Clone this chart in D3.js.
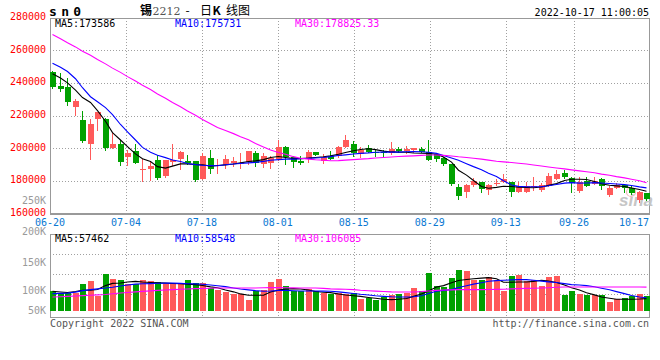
<!DOCTYPE html>
<html>
<head>
<meta charset="utf-8">
<script src="https://cdn.jsdelivr.net/npm/d3@7"></script>
<style>
body { margin: 0; background: #fff; }
svg { display: block; font-family: "DejaVu Sans Mono", monospace; }
</style>
</head>
<body>
<svg id="chart" width="660" height="360"></svg>
<script>
// daily bars of sn0 (tin 2212), 06-20 .. 10-17
var open = [246900,238300,237600,225000,217200,202800,217600,217600,199800,202800,
	194700,198200,187100,187300,192800,183000,191800,193500,192200,192200,
	181200,193900,189200,189800,190800,190600,191800,197300,190400,190800,
	193500,201000,194500,192400,193500,197900,192400,194900,194900,201000,
	202500,196300,200000,197900,197500,196900,199600,198400,199000,199600,
	197900,196300,193900,190400,176400,173400,177500,179500,174400,177900,
	179500,179500,173400,173400,176000,174400,176900,181200,184700,181600,
	174000,180100,178100,181000,171400,175500,177500,175500,168300,172400];
var high = [247300,246000,243200,230400,222900,217600,222300,218600,209600,204900,
	198800,202800,193600,192400,195700,192800,202800,198400,195900,192200,
	196900,199000,193300,195900,194500,196900,198400,198500,197300,194900,
	204700,201400,195300,194900,199000,197900,196500,198400,201400,207800,
	204100,201000,202000,199000,198600,203500,200600,201400,200400,200600,
	204700,196900,194300,190400,178100,177900,181600,179500,178100,181200,
	184200,179500,179500,179500,182200,178700,184600,186700,186700,182200,
	182200,182200,182200,181600,176600,178700,178300,176600,174000,172800];
var low = [236600,234800,226400,220600,203900,193600,211100,198800,199800,189600,
	189600,191200,180100,180400,181400,182400,189600,187100,190600,179800,
	181000,185000,184700,188100,189200,188100,190400,189200,188500,187700,
	192800,190200,188700,190600,191400,195900,191200,193300,194500,200600,
	195300,194500,197600,195500,195500,196500,197600,196900,197900,197600,
	192800,192400,189800,177500,168900,170300,176900,173400,172000,177500,
	179500,170700,173400,173400,174400,173800,176900,181200,181900,173400,
	173000,176900,178100,174900,170700,175500,173200,171800,167200,168300];
var close = [237700,236000,228000,229100,204500,215100,222300,199800,202800,191600,
	197300,191200,187500,189200,181800,192800,192800,197800,191000,180800,
	194900,187100,189800,193300,192400,191000,198400,191200,195300,193900,
	201000,194500,191800,191200,197900,195900,194500,193500,200600,204700,
	197300,199000,197900,196900,196900,199400,198400,199400,200000,197900,
	192800,193500,190400,178100,170900,177500,180100,174900,177500,178900,
	181200,173400,176900,176900,176600,177500,183200,184200,182200,178900,
	179500,176900,180100,176900,175500,177500,175500,172400,173400,168700];
var volume = [80800,73800,73800,73800,109500,121800,60300,150500,130000,125900,
	109500,109500,125900,121800,117700,112300,116400,109500,125900,114800,
	114800,94300,84900,77900,71300,68500,43900,80800,84900,117700,
	130000,101300,82000,82000,91800,80800,73800,71300,73800,71300,
	73800,48000,52100,43900,57400,64400,68500,73800,93100,80800,
	155800,101300,98400,134100,166900,162800,125900,125900,139400,125900,
	82000,142300,146400,121800,128700,101300,139400,142300,64400,80800,
	68500,64400,64400,64400,36900,49200,53300,60300,68500,60300];

// moving averages as drawn (thousands)
var ma5 = [245.5,243.0,240.0,235.5,231.0,228.0,223.0,216.5,209.5,205.0,
	201.0,196.5,193.5,191.8,188.7,187.8,189.0,190.4,190.4,190.0,
	189.8,189.0,189.4,189.8,190.3,191.0,191.8,192.2,193.0,194.3,
	194.9,194.3,193.6,193.6,193.9,194.3,194.7,195.3,196.3,197.3,
	198.4,199.2,199.6,199.1,198.2,197.7,197.6,197.5,197.0,196.9,
	196.8,196.3,194.6,191.5,186.5,183.5,180.2,176.5,175.5,176.0,
	176.7,176.5,176.1,175.9,175.8,176.2,177.2,178.3,180.2,181.0,
	181.0,180.8,179.6,178.2,177.3,176.9,176.5,175.6,174.7,173.6];
var ma10 = [252.0,249.5,246.9,242.5,237.0,231.5,228.4,224.8,220.5,214.5,
	210.0,205.0,200.5,197.5,195.7,194.2,192.8,191.8,190.6,189.9,
	189.5,189.3,189.2,189.8,190.3,190.6,191.0,191.3,191.9,192.6,
	193.0,193.3,193.3,193.5,193.8,194.0,194.3,194.8,195.5,195.9,
	196.4,196.8,197.1,197.5,197.6,197.6,197.6,197.8,197.9,197.8,
	197.5,196.8,195.5,194.0,192.6,190.5,188.7,186.8,184.6,182.6,
	180.0,177.5,176.6,176.4,176.4,176.4,177.0,177.8,178.6,178.9,
	178.6,178.7,178.9,178.7,178.4,178.1,177.7,177.1,176.3,175.7];
var ma30 = [269.6,267.0,264.5,262.0,259.4,256.9,254.3,251.6,249.0,246.4,
	243.8,241.1,238.5,235.9,233.2,230.6,228.0,225.3,222.7,220.1,
	217.5,214.9,212.6,210.8,208.9,207.0,205.1,202.9,200.7,198.9,
	197.4,196.3,194.8,193.8,193.3,192.9,192.6,192.3,192.4,192.7,
	193.0,193.3,193.6,194.0,194.3,194.6,194.9,195.1,195.3,195.6,
	195.8,195.8,195.6,195.2,194.7,194.3,193.8,193.3,192.7,192.0,
	191.6,191.2,190.8,190.3,189.7,189.1,188.5,187.9,187.3,186.7,
	186.1,185.6,184.9,184.1,183.4,182.6,181.8,181.0,180.1,178.8];
var volMa5 = [80.8,77.9,76.0,80.0,84.9,84.9,88.0,104.0,113.0,114.8,
	119.0,121.5,119.0,117.0,115.3,114.0,112.8,111.5,110.2,108.0,
	104.5,99.0,95.0,86.0,78.5,70.0,64.4,64.4,64.4,77.9,
	85.5,89.5,91.8,90.0,86.0,80.0,77.0,75.4,69.5,65.5,
	62.5,60.0,55.5,52.0,48.0,46.7,48.0,51.0,60.0,70.0,
	82.0,98.0,104.0,116.0,125.0,129.0,132.0,134.5,136.9,132.0,
	118.0,117.5,118.9,118.9,121.5,125.9,123.0,117.0,106.5,95.0,
	86.0,75.0,66.0,57.0,52.0,48.0,48.0,48.0,49.0,50.8];
var volMa10 = [71.3,72.3,73.4,77.5,83.5,87.7,90.8,94.0,97.5,102.5,
	106.5,110.0,111.5,112.3,113.5,114.8,114.0,113.0,111.8,111.0,
	109.8,106.5,103.5,100.0,94.5,90.0,86.5,83.5,81.0,82.0,
	84.0,84.5,83.0,82.0,82.0,82.0,81.5,80.8,78.5,75.4,
	72.0,68.5,65.5,62.5,60.0,58.2,57.4,57.4,58.5,62.5,
	72.0,80.8,84.5,87.7,96.5,103.5,110.0,115.5,122.0,124.5,
	125.9,127.5,128.7,128.7,126.0,122.5,119.5,116.5,112.0,108.2,
	106.5,103.8,99.5,93.5,87.0,79.5,71.3,63.5,57.4,54.0];
var volMa30 = [57.4,58.5,60.0,61.5,63.0,64.4,66.0,67.5,70.5,73.5,
	76.0,78.5,80.5,82.5,84.5,86.0,87.5,89.0,90.0,91.5,
	92.3,93.3,94.3,94.3,94.3,94.3,94.3,94.3,95.0,95.9,
	95.9,95.5,94.8,94.3,94.3,94.3,92.5,90.5,89.5,89.0,
	87.5,85.0,83.0,81.5,80.0,78.5,77.9,77.9,77.9,79.5,
	82.0,84.5,86.0,86.5,87.5,87.7,87.7,87.7,88.2,88.7,
	89.0,90.5,91.8,92.5,93.5,94.3,95.5,97.0,98.4,98.4,
	98.4,98.4,98.4,98.4,98.4,98.4,98.4,98.4,98.4,98.0];

var dateLabels = ["06-20","07-04","07-18","08-01","08-15","08-29","09-13","09-26","10-17"];
var dateIndex = [0,10,20,30,40,50,60,69,79];
var priceTicks = [280000,260000,240000,220000,200000,180000,160000];
var volLabels = ["250K","200K","150K","100K","50K"];
var volLabelValues = [250000,200000,150000,100000,50000];
var maNames = ["MA5","MA10","MA30"];
var priceMaLast = ["173586","175731","178825.33"];
var volMaLast = ["57462","58548","106085"];

var maColors = ["#000000","#0000ff","#ff00ff"];
var upColor = "#ff5a5a", downColor = "#00a100";
var gridColor = "#a0a0a0", frameColor = "#999999";

var svg = d3.select("#chart");
var left = 50, right = 650;
var priceTop = 18, priceBottom = 213;
var volTop = 234, volBottom = 317;

var x = d3.scaleBand().domain(d3.range(close.length)).range([left, right])
	.paddingInner(0.24).paddingOuter(0);
var xt = d3.scaleLinear().domain([0, 79]).range([left, right]);
var y = d3.scaleLinear().domain([160000, 280000]).range([213.5, 17.5]);
var yv = d3.scaleLinear().domain([0, 313000]).range([311, 234.6]);
// the volume labels sit where the original puts them, not on a linear grid
var yvl = d3.scaleLinear().domain(volLabelValues).range([200, 231, 262, 290, 310]);

var bw = Math.round(x.bandwidth());
var bx = i => Math.round(x(i));
var cx = i => bx(i) + 2.5;
var px = v => Math.round(v) + 0.5;

// grid
var grid = svg.append("g").attr("stroke", gridColor).attr("stroke-dasharray", "1,2")
	.attr("shape-rendering", "crispEdges");
priceTicks.slice(1, -1).forEach(function(t){
	grid.append("line").attr("x1", left).attr("x2", right)
		.attr("y1", px(y(t))).attr("y2", px(y(t)));
});
d3.range(1, 4).forEach(function(k){
	var gy = volTop + 20*k + 0.5;
	grid.append("line").attr("x1", left).attr("x2", right).attr("y1", gy).attr("y2", gy);
});
dateIndex.slice(1, -1).forEach(function(d){
	var gx = px(xt(d));
	grid.append("line").attr("x1", gx).attr("x2", gx).attr("y1", priceTop).attr("y2", priceBottom);
	grid.append("line").attr("x1", gx).attr("x2", gx).attr("y1", volTop).attr("y2", volBottom);
});

// frames
var frame = svg.append("g").attr("fill", "none").attr("stroke", frameColor)
	.attr("shape-rendering", "crispEdges");
frame.append("rect").attr("x", left + 0.5).attr("y", priceTop + 0.5)
	.attr("width", right - left - 1).attr("height", priceBottom - priceTop);
frame.append("line").attr("x1", left).attr("x2", right)
	.attr("y1", priceBottom + 1.5).attr("y2", priceBottom + 1.5);
frame.append("rect").attr("x", left + 0.5).attr("y", volTop + 0.5)
	.attr("width", right - left - 1).attr("height", volBottom - volTop);

// watermark
var wm = svg.append("g");
wm.append("circle").attr("cx", 631).attr("cy", 192).attr("r", 4.5)
	.attr("fill", "none").attr("stroke", "#f2b8b8").attr("stroke-width", 1.2);
wm.append("text").attr("x", 619).attr("y", 206)
	.attr("font-family", "Liberation Sans, Arial, sans-serif")
	.attr("font-size", 17).attr("font-weight", "bold").attr("font-style", "italic")
	.attr("fill", "#c6c6c6").text("sina");

// candles
var idx = d3.range(close.length);
var isUp = i => close[i] >= open[i];
var candles = svg.append("g").attr("shape-rendering", "crispEdges");
candles.selectAll("line.wick").data(idx).enter().append("line")
	.attr("class", "wick")
	.attr("x1", cx).attr("x2", cx)
	.attr("y1", i => Math.round(y(high[i])))
	.attr("y2", i => Math.round(y(low[i])) + 1)
	.attr("stroke", i => isUp(i) ? upColor : downColor);
candles.selectAll("rect.body").data(idx).enter().append("rect")
	.attr("class", "body")
	.attr("x", bx)
	.attr("width", bw)
	.attr("y", i => Math.round(y(Math.max(open[i], close[i]))))
	.attr("height", function(i){
		var t = Math.round(y(Math.max(open[i], close[i])));
		var b = Math.round(y(Math.min(open[i], close[i])));
		return Math.max(1, b - t);
	})
	.attr("fill", i => isUp(i) ? upColor : downColor);

// volume bars
svg.append("g").attr("shape-rendering", "crispEdges")
	.selectAll("rect").data(idx).enter().append("rect")
	.attr("x", bx)
	.attr("width", bw)
	.attr("y", i => Math.round(yv(volume[i])))
	.attr("height", i => Math.round(yv(0)) - Math.round(yv(volume[i])))
	.attr("fill", i => isUp(i) ? upColor : downColor);

// moving average lines
var priceLine = d3.line().x((d, i) => cx(i)).y(d => y(d*1000));
[ma5, ma10, ma30].forEach(function(s, k){
	svg.append("path").attr("d", priceLine(s)).attr("fill", "none")
		.attr("stroke", maColors[k]).attr("stroke-width", 1.1);
});
var volLine = d3.line().x((d, i) => cx(i)).y(d => yv(d*1000));
[volMa5, volMa10, volMa30].forEach(function(s, k){
	svg.append("path").attr("d", volLine(s)).attr("fill", "none")
		.attr("stroke", maColors[k]).attr("stroke-width", 1.1);
});

// axis labels
var txt = svg.append("g").attr("font-size", 10);
txt.selectAll("text.price").data(priceTicks).enter().append("text")
	.attr("x", 46).attr("y", d => y(d) + 2.5)
	.attr("text-anchor", "end").attr("fill", "#f00").text(d => d);
txt.selectAll("text.vol").data(volLabels).enter().append("text")
	.attr("x", 46).attr("y", (d, i) => yvl(volLabelValues[i]) + 3.5)
	.attr("text-anchor", "end").attr("fill", "#9a9a9a").text(d => d);
txt.selectAll("text.date").data(dateLabels).enter().append("text")
	.attr("x", (d, i) => i == dateLabels.length - 1 ? right - 1 : xt(dateIndex[i]))
	.attr("y", 225.5)
	.attr("text-anchor", (d, i) => i == dateLabels.length - 1 ? "end" : "middle")
	.attr("fill", "#0a78d2").text(d => d);

// MA legends
[55, 175, 295].forEach(function(lx, k){
	txt.append("text").attr("x", lx).attr("y", 27).attr("fill", maColors[k])
		.text(maNames[k] + ":" + priceMaLast[k]);
	txt.append("text").attr("x", lx).attr("y", 242).attr("fill", maColors[k])
		.text(maNames[k] + ":" + volMaLast[k]);
});

// header and footer
svg.append("text").attr("x", 49).attr("y", 16)
	.attr("font-size", 13).attr("font-weight", "bold").attr("letter-spacing", 4.3)
	.text("sn0");
var title = svg.append("g").attr("font-family", "Noto Sans CJK SC, sans-serif")
	.attr("font-size", 12);
title.append("text").attr("x", 140).attr("y", 15).attr("font-weight", "bold").text("锡");
title.append("text").attr("x", 152.5).attr("y", 15).attr("fill", "#555")
	.attr("font-family", "DejaVu Serif, serif").attr("font-size", 11).text("2212");
title.append("text").attr("x", 185.5).attr("y", 14.5).text("-");
title.append("text").attr("x", 200).attr("y", 15).text("日");
title.append("text").attr("x", 212.5).attr("y", 15).attr("font-weight", "bold").text("K");
title.append("text").attr("x", 226).attr("y", 15).text("线图");
svg.append("text").attr("x", 649).attr("y", 16).attr("font-size", 10)
	.attr("text-anchor", "end").text("2022-10-17 11:00:05");
svg.append("text").attr("x", 50).attr("y", 327).attr("font-size", 10)
	.attr("fill", "#555").text("Copyright 2022 SINA.COM");
svg.append("text").attr("x", 649).attr("y", 327).attr("font-size", 10)
	.attr("text-anchor", "end").attr("fill", "#555").text("http://finance.sina.com.cn");
</script>
</body>
</html>
